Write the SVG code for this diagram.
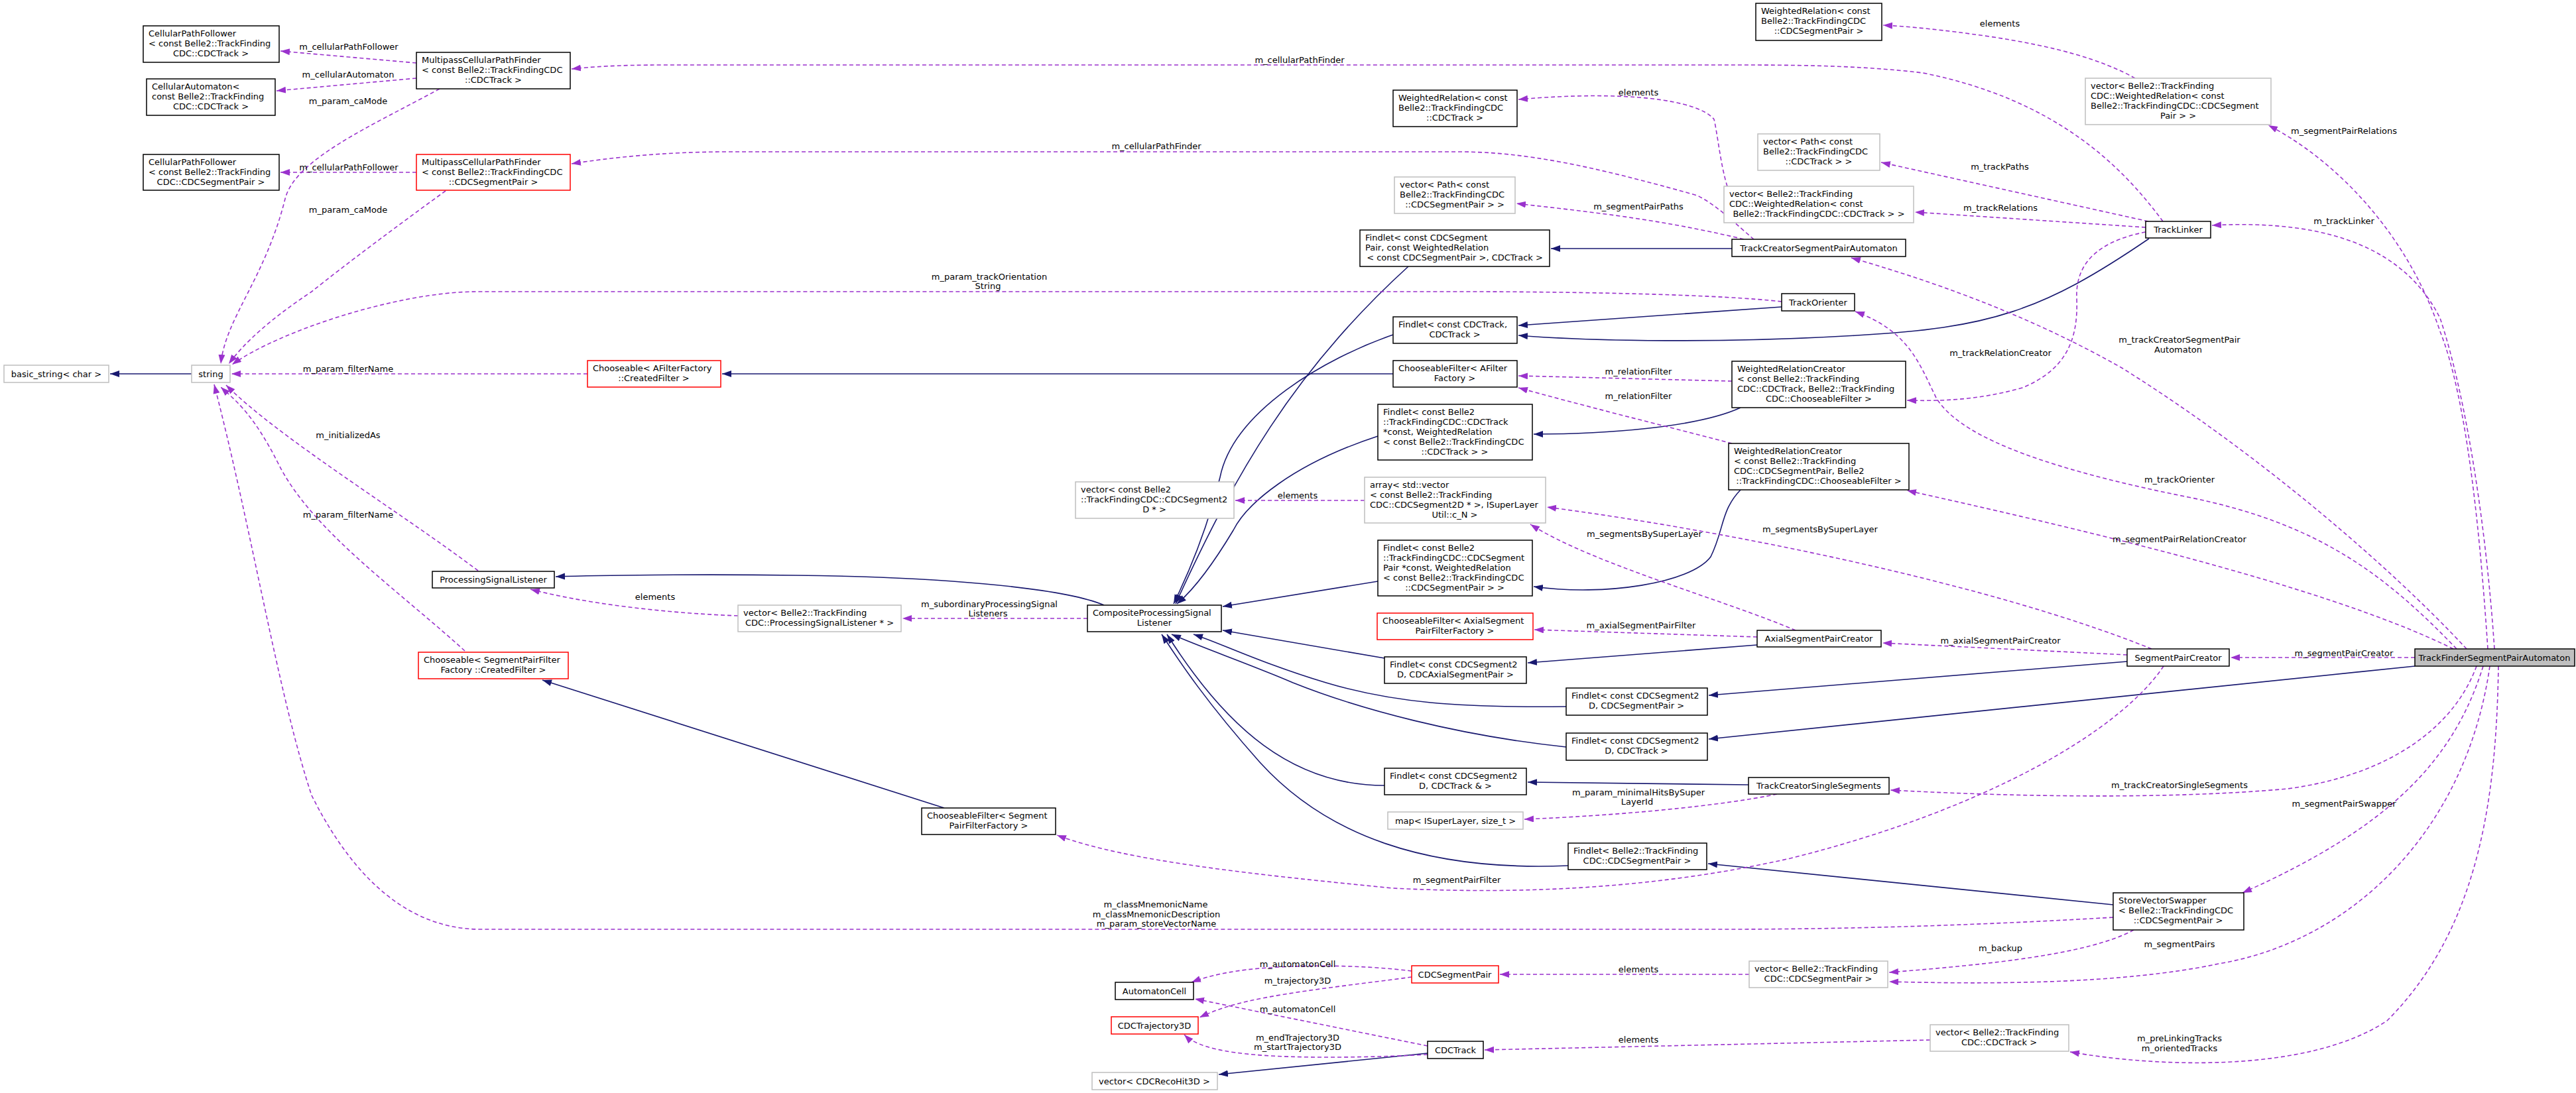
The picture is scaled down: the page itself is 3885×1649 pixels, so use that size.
<svg xmlns="http://www.w3.org/2000/svg" width="3885" height="1649" viewBox="0 0 3885 1649">
<style>
text{font-family:"DejaVu Sans","Liberation Sans",sans-serif;font-size:13px;fill:#000}
.m{text-anchor:middle}
.n rect{fill:#fff;stroke:#000;stroke-width:1.5}
.g rect{fill:#fff;stroke:#bfbfbf;stroke-width:1.5}
.r rect{fill:#fff;stroke:#ff0000;stroke-width:1.5}
.main rect{fill:#bfbfbf;stroke:#000;stroke-width:1.5}
.s{fill:none;stroke:#191970;stroke-width:1.6;marker-end:url(#ab)}
.d{fill:none;stroke:#9a32cd;stroke-width:1.6;stroke-dasharray:6,4;marker-end:url(#ap)}
.l{text-anchor:middle}
</style>
<defs>
<marker id="ab" markerUnits="userSpaceOnUse" markerWidth="16" markerHeight="12" refX="14" refY="5" orient="auto"><path d="M0,0L14,5L0,10z" fill="#191970"/></marker>
<marker id="ap" markerUnits="userSpaceOnUse" markerWidth="16" markerHeight="12" refX="14" refY="5" orient="auto"><path d="M0,0L14,5L0,10z" fill="#9a32cd"/></marker>
</defs>
<rect width="3885" height="1649" fill="#fff"/>
<g id="edges">
<path class="s" d="M289,564L166,564"/>
<path class="s" d="M2101,564L1089,564"/>
<path class="s" d="M1665,913C1600,885 1400,870 1200,868C1050,866 900,868 838,870"/>
<path class="s" d="M1424,1219L818,1026"/>
<path class="s" d="M2124,402C1950,560 1860,720 1773,911"/>
<path class="s" d="M2101,505C2000,540 1860,620 1840,720C1820,800 1790,870 1770,911"/>
<path class="s" d="M2078,658C1950,700 1880,760 1860,800C1830,850 1800,890 1775,911"/>
<path class="s" d="M2078,877L1844,915"/>
<path class="s" d="M2088,993L1844,951"/>
<path class="s" d="M2362,1066C2200,1068 2100,1060 2000,1030C1900,1000 1840,970 1800,957"/>
<path class="s" d="M2362,1127C2200,1110 2050,1070 1950,1030C1880,1000 1820,980 1767,957"/>
<path class="s" d="M2088,1185C1950,1185 1850,1100 1760,957"/>
<path class="s" d="M2365,1306C2150,1315 2000,1260 1900,1150C1820,1060 1780,1000 1752,957"/>
<path class="s" d="M2612,375L2339,375"/>
<path class="s" d="M2687,463L2290,491"/>
<path class="s" d="M3241,360C3080,470 3000,495 2800,506C2600,518 2400,515 2290,506"/>
<path class="s" d="M2625,615C2560,645 2420,655 2313,655"/>
<path class="s" d="M2625,739C2595,770 2600,800 2580,840C2550,880 2420,900 2313,885"/>
<path class="s" d="M2650,973L2304,1000"/>
<path class="s" d="M3208,998L2577,1049"/>
<path class="s" d="M3642,1005L2577,1115"/>
<path class="s" d="M2637,1184L2304,1180"/>
<path class="s" d="M3187,1365L2576,1303"/>
<path class="s" d="M2153,1589L1838,1621"/>
<path class="d" d="M628,95L423,77"/>
<path class="d" d="M628,118L417,137"/>
<path class="d" d="M663,134C560,190 445,240 430,300C400,420 340,480 333,549"/>
<path class="d" d="M628,260L423,260"/>
<path class="d" d="M672,288C600,340 520,400 470,440C410,480 370,515 345,549"/>
<path class="d" d="M3262,334C3200,250 3100,150 2900,110C2800,98 2700,98 2600,98L1000,98C930,98 890,101 862,104"/>
<path class="d" d="M2645,361C2620,340 2590,310 2560,295C2400,250 2300,229 2200,229L1100,229C1000,229 920,238 862,247"/>
<path class="d" d="M2630,361C2500,330 2400,320 2287,307"/>
<path class="d" d="M3220,118C3170,90 3100,70 3000,55C2930,45 2880,40 2840,38"/>
<path class="d" d="M3240,334L2837,245"/>
<path class="d" d="M3236,343L2888,320"/>
<path class="d" d="M3236,350C3160,365 3130,400 3132,450C3135,520 3110,560 3050,585C2980,605 2920,605 2876,604"/>
<path class="d" d="M2605,281C2595,250 2590,200 2585,180C2560,150 2450,136 2290,150"/>
<path class="d" d="M3752,979C3740,800 3720,600 3680,500C3630,350 3520,240 3421,189"/>
<path class="d" d="M3762,979C3750,800 3720,600 3680,480C3630,380 3520,330 3336,340"/>
<path class="d" d="M3720,979C3600,850 3400,680 3200,555C3050,470 2900,420 2792,389"/>
<path class="d" d="M3705,979C3600,870 3500,790 3300,750C3050,700 2950,650 2920,600C2895,550 2880,500 2798,470"/>
<path class="d" d="M3700,979C3500,880 3100,790 2876,740"/>
<path class="d" d="M3642,992L3364,992"/>
<path class="d" d="M3245,979C3000,880 2600,800 2333,765"/>
<path class="d" d="M2708,951C2600,905 2400,850 2308,791"/>
<path class="d" d="M2650,961L2314,950"/>
<path class="d" d="M3208,988L2839,970"/>
<path class="d" d="M2612,575L2290,567"/>
<path class="d" d="M2612,669C2500,640 2380,610 2290,585"/>
<path class="d" d="M2058,755L1863,755"/>
<path class="d" d="M1640,933L1361,933"/>
<path class="d" d="M1113,929C1000,925 880,910 800,889"/>
<path class="d" d="M721,861C600,770 420,660 341,581"/>
<path class="d" d="M701,982C600,890 470,800 420,700C380,620 350,600 333,584"/>
<path class="d" d="M886,564L349,564"/>
<path class="d" d="M3187,1384C3000,1395 2800,1402 2600,1402L725,1402C600,1402 520,1300 470,1200C420,1050 380,800 323,580"/>
<path class="d" d="M2687,455C2600,445 2400,440 2200,440L720,440C600,440 420,500 350,550"/>
<path class="d" d="M3263,1005C3200,1100 3000,1220 2700,1295C2500,1340 2300,1350 2100,1340C1900,1320 1700,1300 1594,1260"/>
<path class="d" d="M3735,1005C3700,1100 3600,1170 3450,1190C3250,1208 3000,1200 2851,1192"/>
<path class="d" d="M2680,1198C2600,1215 2450,1230 2299,1236"/>
<path class="d" d="M3745,1005C3700,1150 3600,1250 3382,1347"/>
<path class="d" d="M3218,1403C3150,1440 3000,1455 2849,1467"/>
<path class="d" d="M3755,1005C3720,1250 3550,1420 3346,1454C3200,1485 3000,1485 2849,1481"/>
<path class="d" d="M3768,1005C3765,1200 3740,1400 3600,1540C3480,1620 3250,1610 3122,1587"/>
<path class="d" d="M2638,1470L2262,1470"/>
<path class="d" d="M2911,1569L2239,1584"/>
<path class="d" d="M2129,1465C2050,1455 1950,1455 1880,1463C1840,1468 1815,1475 1797,1482"/>
<path class="d" d="M2129,1474C2050,1485 1950,1495 1880,1511C1850,1518 1830,1525 1809,1535"/>
<path class="d" d="M2153,1578L1802,1507"/>
<path class="d" d="M2153,1591C2080,1595 1950,1598 1880,1590C1830,1585 1800,1575 1786,1561"/>
</g>
<g id="elabels">
<text class="l" x="526" y="75">m_cellularPathFollower</text>
<text class="l" x="525" y="117">m_cellularAutomaton</text>
<text class="l" x="525" y="157">m_param_caMode</text>
<text class="l" x="526" y="257">m_cellularPathFollower</text>
<text class="l" x="525" y="321">m_param_caMode</text>
<text class="l" x="1960" y="95">m_cellularPathFinder</text>
<text class="l" x="1744" y="225">m_cellularPathFinder</text>
<text class="l" x="2471" y="144">elements</text>
<text class="l" x="2471" y="316">m_segmentPairPaths</text>
<text class="l" x="1492" y="422">m_param_trackOrientation</text>
<text class="l" x="1490" y="436">String</text>
<text class="l" x="3016" y="40">elements</text>
<text class="l" x="3535" y="202">m_segmentPairRelations</text>
<text class="l" x="3016" y="256">m_trackPaths</text>
<text class="l" x="3017" y="318">m_trackRelations</text>
<text class="l" x="3535" y="338">m_trackLinker</text>
<text class="l" x="3287" y="517">m_trackCreatorSegmentPair</text>
<text class="l" x="3285" y="532">Automaton</text>
<text class="l" x="3017" y="537">m_trackRelationCreator</text>
<text class="l" x="525" y="561">m_param_filterName</text>
<text class="l" x="525" y="661">m_initializedAs</text>
<text class="l" x="525" y="781">m_param_filterName</text>
<text class="l" x="988" y="905">elements</text>
<text class="l" x="2471" y="565">m_relationFilter</text>
<text class="l" x="2471" y="602">m_relationFilter</text>
<text class="l" x="1957" y="752">elements</text>
<text class="l" x="2480" y="810">m_segmentsBySuperLayer</text>
<text class="l" x="1492" y="916">m_subordinaryProcessingSignal</text>
<text class="l" x="1490" y="930">Listeners</text>
<text class="l" x="2475" y="948">m_axialSegmentPairFilter</text>
<text class="l" x="3287" y="728">m_trackOrienter</text>
<text class="l" x="3287" y="818">m_segmentPairRelationCreator</text>
<text class="l" x="2745" y="803">m_segmentsBySuperLayer</text>
<text class="l" x="3017" y="971">m_axialSegmentPairCreator</text>
<text class="l" x="3535" y="990">m_segmentPairCreator</text>
<text class="l" x="2471" y="1200">m_param_minimalHitsBySuper</text>
<text class="l" x="2469" y="1214">LayerId</text>
<text class="l" x="2197" y="1332">m_segmentPairFilter</text>
<text class="l" x="1743" y="1369">m_classMnemonicName</text>
<text class="l" x="1744" y="1384">m_classMnemonicDescription</text>
<text class="l" x="1744" y="1398">m_param_storeVectorName</text>
<text class="l" x="1957" y="1459">m_automatonCell</text>
<text class="l" x="1957" y="1484">m_trajectory3D</text>
<text class="l" x="2471" y="1467">elements</text>
<text class="l" x="1957" y="1527">m_automatonCell</text>
<text class="l" x="1957" y="1570">m_endTrajectory3D</text>
<text class="l" x="1957" y="1584">m_startTrajectory3D</text>
<text class="l" x="2471" y="1573">elements</text>
<text class="l" x="3287" y="1189">m_trackCreatorSingleSegments</text>
<text class="l" x="3535" y="1217">m_segmentPairSwapper</text>
<text class="l" x="3017" y="1435">m_backup</text>
<text class="l" x="3287" y="1429">m_segmentPairs</text>
<text class="l" x="3287" y="1571">m_preLinkingTracks</text>
<text class="l" x="3287" y="1586">m_orientedTracks</text>
</g>
<g id="n1" class="n"><rect x="216" y="39" width="205" height="55"/><text x="224" y="55">CellularPathFollower</text><text x="224" y="70">&lt; const Belle2::TrackFinding</text><text class="m" x="318" y="85">CDC::CDCTrack &gt;</text></g>
<g id="n2" class="n"><rect x="628" y="79" width="232" height="55"/><text x="636" y="95">MultipassCellularPathFinder</text><text x="636" y="110">&lt; const Belle2::TrackFindingCDC</text><text class="m" x="744" y="125">::CDCTrack &gt;</text></g>
<g id="n3" class="n"><rect x="221" y="119" width="194" height="55"/><text x="229" y="135">CellularAutomaton&lt;</text><text x="229" y="150"> const Belle2::TrackFinding</text><text class="m" x="318" y="165">CDC::CDCTrack &gt;</text></g>
<g id="n4" class="n"><rect x="216" y="233" width="205" height="54"/><text x="224" y="249">CellularPathFollower</text><text x="224" y="264">&lt; const Belle2::TrackFinding</text><text class="m" x="318" y="279">CDC::CDCSegmentPair &gt;</text></g>
<g id="n5" class="r"><rect x="628" y="233" width="232" height="54"/><text x="636" y="249">MultipassCellularPathFinder</text><text x="636" y="264">&lt; const Belle2::TrackFindingCDC</text><text class="m" x="744" y="279">::CDCSegmentPair &gt;</text></g>
<g id="n6" class="g"><rect x="6" y="551" width="158" height="26"/><text class="m" x="85" y="569">basic_string&lt; char &gt;</text></g>
<g id="n7" class="g"><rect x="289" y="551" width="58" height="26"/><text class="m" x="318" y="569">string</text></g>
<g id="n8" class="r"><rect x="886" y="544" width="201" height="40"/><text x="894" y="560">Chooseable&lt; AFilterFactory</text><text class="m" x="986" y="575">::CreatedFilter &gt;</text></g>
<g id="n9" class="n"><rect x="652" y="862" width="184" height="25"/><text class="m" x="744" y="879">ProcessingSignalListener</text></g>
<g id="n10" class="g"><rect x="1113" y="913" width="246" height="40"/><text x="1121" y="929">vector&lt; Belle2::TrackFinding</text><text class="m" x="1236" y="944">CDC::ProcessingSignalListener * &gt;</text></g>
<g id="n11" class="r"><rect x="631" y="984" width="226" height="40"/><text x="639" y="1000">Chooseable&lt; SegmentPairFilter</text><text class="m" x="744" y="1015">Factory ::CreatedFilter &gt;</text></g>
<g id="n12" class="n"><rect x="1390" y="1219" width="202" height="40"/><text x="1398" y="1235">ChooseableFilter&lt; Segment</text><text class="m" x="1491" y="1250">PairFilterFactory &gt;</text></g>
<g id="n13" class="n"><rect x="1640" y="913" width="202" height="40"/><text x="1648" y="929">CompositeProcessingSignal</text><text class="m" x="1741" y="944">Listener</text></g>
<g id="n14" class="g"><rect x="1622" y="727" width="239" height="55"/><text x="1630" y="743">vector&lt; const Belle2</text><text x="1630" y="758">::TrackFindingCDC::CDCSegment2</text><text class="m" x="1741" y="773">D * &gt;</text></g>
<g id="n15" class="n"><rect x="2101" y="136" width="187" height="55"/><text x="2109" y="152">WeightedRelation&lt; const</text><text x="2109" y="167">Belle2::TrackFindingCDC</text><text class="m" x="2194" y="182">::CDCTrack &gt;</text></g>
<g id="n16" class="g"><rect x="2103" y="267" width="182" height="55"/><text x="2111" y="283">vector&lt; Path&lt; const</text><text x="2111" y="298"> Belle2::TrackFindingCDC</text><text class="m" x="2194" y="313">::CDCSegmentPair &gt; &gt;</text></g>
<g id="n17" class="n"><rect x="2051" y="347" width="286" height="55"/><text x="2059" y="363">Findlet&lt; const CDCSegment</text><text x="2059" y="378">Pair, const WeightedRelation</text><text class="m" x="2194" y="393">&lt; const CDCSegmentPair &gt;, CDCTrack &gt;</text></g>
<g id="n18" class="n"><rect x="2101" y="478" width="187" height="40"/><text x="2109" y="494">Findlet&lt; const CDCTrack,</text><text class="m" x="2194" y="509">CDCTrack &gt;</text></g>
<g id="n19" class="n"><rect x="2101" y="544" width="187" height="40"/><text x="2109" y="560">ChooseableFilter&lt; AFilter</text><text class="m" x="2194" y="575">Factory &gt;</text></g>
<g id="n20" class="n"><rect x="2078" y="610" width="233" height="84"/><text x="2086" y="626">Findlet&lt; const Belle2</text><text x="2086" y="641">::TrackFindingCDC::CDCTrack</text><text x="2086" y="656"> *const, WeightedRelation</text><text x="2086" y="671">&lt; const Belle2::TrackFindingCDC</text><text class="m" x="2194" y="686">::CDCTrack &gt; &gt;</text></g>
<g id="n21" class="g"><rect x="2058" y="720" width="273" height="69"/><text x="2066" y="736">array&lt; std::vector</text><text x="2066" y="751">&lt; const Belle2::TrackFinding</text><text x="2066" y="766">CDC::CDCSegment2D * &gt;, ISuperLayer</text><text class="m" x="2194" y="781">Util::c_N &gt;</text></g>
<g id="n22" class="n"><rect x="2078" y="815" width="233" height="84"/><text x="2086" y="831">Findlet&lt; const Belle2</text><text x="2086" y="846">::TrackFindingCDC::CDCSegment</text><text x="2086" y="861">Pair *const, WeightedRelation</text><text x="2086" y="876">&lt; const Belle2::TrackFindingCDC</text><text class="m" x="2194" y="891">::CDCSegmentPair &gt; &gt;</text></g>
<g id="n23" class="r"><rect x="2077" y="925" width="235" height="40"/><text x="2085" y="941">ChooseableFilter&lt; AxialSegment</text><text class="m" x="2194" y="956">PairFilterFactory &gt;</text></g>
<g id="n24" class="n"><rect x="2088" y="991" width="214" height="40"/><text x="2096" y="1007">Findlet&lt; const CDCSegment2</text><text class="m" x="2195" y="1022">D, CDCAxialSegmentPair &gt;</text></g>
<g id="n25" class="n"><rect x="2362" y="1038" width="213" height="41"/><text x="2370" y="1054">Findlet&lt; const CDCSegment2</text><text class="m" x="2468" y="1069">D, CDCSegmentPair &gt;</text></g>
<g id="n26" class="n"><rect x="2362" y="1106" width="213" height="41"/><text x="2370" y="1122">Findlet&lt; const CDCSegment2</text><text class="m" x="2468" y="1137">D, CDCTrack &gt;</text></g>
<g id="n27" class="n"><rect x="2088" y="1159" width="214" height="40"/><text x="2096" y="1175">Findlet&lt; const CDCSegment2</text><text class="m" x="2195" y="1190">D, CDCTrack &amp; &gt;</text></g>
<g id="n28" class="g"><rect x="2093" y="1225" width="204" height="26"/><text class="m" x="2195" y="1243">map&lt; ISuperLayer, size_t &gt;</text></g>
<g id="n29" class="n"><rect x="2365" y="1272" width="209" height="40"/><text x="2373" y="1288">Findlet&lt; Belle2::TrackFinding</text><text class="m" x="2469" y="1303">CDC::CDCSegmentPair &gt;</text></g>
<g id="n30" class="r"><rect x="2129" y="1457" width="131" height="26"/><text class="m" x="2194" y="1475">CDCSegmentPair</text></g>
<g id="n31" class="n"><rect x="1682" y="1482" width="118" height="26"/><text class="m" x="1741" y="1500">AutomatonCell</text></g>
<g id="n32" class="r"><rect x="1676" y="1534" width="131" height="26"/><text class="m" x="1741" y="1552">CDCTrajectory3D</text></g>
<g id="n33" class="n"><rect x="2153" y="1571" width="84" height="26"/><text class="m" x="2195" y="1589">CDCTrack</text></g>
<g id="n34" class="g"><rect x="1647" y="1618" width="189" height="26"/><text class="m" x="1741" y="1636">vector&lt; CDCRecoHit3D &gt;</text></g>
<g id="n35" class="n"><rect x="2648" y="5" width="190" height="56"/><text x="2656" y="21">WeightedRelation&lt; const</text><text x="2656" y="36">Belle2::TrackFindingCDC</text><text class="m" x="2743" y="51">::CDCSegmentPair &gt;</text></g>
<g id="n36" class="g"><rect x="3145" y="118" width="280" height="70"/><text x="3153" y="134">vector&lt; Belle2::TrackFinding</text><text x="3153" y="149">CDC::WeightedRelation&lt; const</text><text x="3153" y="164"> Belle2::TrackFindingCDC::CDCSegment</text><text class="m" x="3285" y="179">Pair &gt; &gt;</text></g>
<g id="n37" class="g"><rect x="2651" y="202" width="184" height="55"/><text x="2659" y="218">vector&lt; Path&lt; const</text><text x="2659" y="233"> Belle2::TrackFindingCDC</text><text class="m" x="2743" y="248">::CDCTrack &gt; &gt;</text></g>
<g id="n38" class="g"><rect x="2600" y="281" width="286" height="55"/><text x="2608" y="297">vector&lt; Belle2::TrackFinding</text><text x="2608" y="312">CDC::WeightedRelation&lt; const</text><text class="m" x="2743" y="327"> Belle2::TrackFindingCDC::CDCTrack &gt; &gt;</text></g>
<g id="n39" class="n"><rect x="3236" y="334" width="98" height="25"/><text class="m" x="3285" y="351">TrackLinker</text></g>
<g id="n40" class="n"><rect x="2612" y="361" width="262" height="26"/><text class="m" x="2743" y="379">TrackCreatorSegmentPairAutomaton</text></g>
<g id="n41" class="n"><rect x="2687" y="443" width="110" height="26"/><text class="m" x="2742" y="461">TrackOrienter</text></g>
<g id="n42" class="n"><rect x="2612" y="545" width="262" height="70"/><text x="2620" y="561">WeightedRelationCreator</text><text x="2620" y="576">&lt; const Belle2::TrackFinding</text><text x="2620" y="591">CDC::CDCTrack, Belle2::TrackFinding</text><text class="m" x="2743" y="606">CDC::ChooseableFilter &gt;</text></g>
<g id="n43" class="n"><rect x="2607" y="669" width="272" height="70"/><text x="2615" y="685">WeightedRelationCreator</text><text x="2615" y="700">&lt; const Belle2::TrackFinding</text><text x="2615" y="715">CDC::CDCSegmentPair, Belle2</text><text class="m" x="2743" y="730">::TrackFindingCDC::ChooseableFilter &gt;</text></g>
<g id="n44" class="n"><rect x="2650" y="951" width="187" height="25"/><text class="m" x="2743" y="968">AxialSegmentPairCreator</text></g>
<g id="n45" class="n"><rect x="3208" y="979" width="154" height="26"/><text class="m" x="3285" y="997">SegmentPairCreator</text></g>
<g id="n46" class="main"><rect x="3642" y="979" width="241" height="26"/><text class="m" x="3762" y="997">TrackFinderSegmentPairAutomaton</text></g>
<g id="n47" class="n"><rect x="2637" y="1173" width="212" height="25"/><text class="m" x="2743" y="1190">TrackCreatorSingleSegments</text></g>
<g id="n48" class="n"><rect x="3187" y="1347" width="197" height="56"/><text x="3195" y="1363">StoreVectorSwapper</text><text x="3195" y="1378">&lt; Belle2::TrackFindingCDC</text><text class="m" x="3285" y="1393">::CDCSegmentPair &gt;</text></g>
<g id="n49" class="g"><rect x="2638" y="1450" width="209" height="40"/><text x="2646" y="1466">vector&lt; Belle2::TrackFinding</text><text class="m" x="2742" y="1481">CDC::CDCSegmentPair &gt;</text></g>
<g id="n50" class="g"><rect x="2911" y="1546" width="209" height="40"/><text x="2919" y="1562">vector&lt; Belle2::TrackFinding</text><text class="m" x="3015" y="1577">CDC::CDCTrack &gt;</text></g>
</svg>
